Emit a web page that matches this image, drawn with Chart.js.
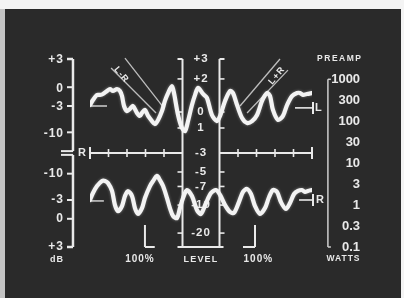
<!DOCTYPE html>
<html>
<head>
<meta charset="utf-8">
<script src="https://cdn.jsdelivr.net/npm/chart.js@4.4.1/dist/chart.umd.min.js"></script>
<style>
html, body { margin: 0; padding: 0; background: #f2f2f2; }
#wrap { width: 404px; height: 298px; }
canvas { display: block; filter: blur(0.35px); }
</style>
</head>
<body>
<div id="wrap"><canvas id="scope" width="404" height="298"></canvas></div>
<script>
// sweep position in graticule divisions (0..12), deflection in screen units (0 = bottom, 100 = top)
const sweepL = [0, 0.16, 0.38, 0.54, 0.70, 0.92, 1.08, 1.24, 1.46, 1.62, 1.73, 1.84, 2.0, 2.16, 2.32, 2.54, 2.70, 2.81, 2.97, 3.14,
    3.35, 3.51, 3.68, 3.89, 4.05, 4.22, 4.43, 4.54, 4.76, 4.97, 5.14, 5.30, 5.51, 5.68, 5.84, 6.11, 6.32, 6.59, 6.86, 7.03,
    7.30, 7.57, 7.73, 7.95, 8.22, 8.49, 8.76, 9.03, 9.30, 9.57, 9.73, 9.89, 10.16, 10.43, 10.65, 10.92, 11.19, 11.35, 11.51, 11.73, 12.0];
const traceL = [75.5, 78.2, 80.9, 80.9, 81.4, 83.0, 84.0, 83.0, 84.0, 83.0, 80.3, 75.0, 72.3, 73.4, 75.0, 71.3, 69.7, 71.3, 72.9, 69.7,
    67.0, 65.4, 67.6, 72.3, 77.7, 81.9, 85.6, 81.9, 70.2, 63.3, 61.7, 67.0, 75.5, 80.9, 84.6, 81.4, 79.3, 70.2, 67.0, 69.7,
    77.7, 83.0, 81.9, 75.5, 68.6, 66.0, 67.0, 70.2, 77.7, 81.9, 80.3, 72.9, 67.6, 69.7, 75.5, 80.3, 81.9, 81.9, 80.9, 81.4, 81.9];
const sweepR = [0, 0.16, 0.38, 0.65, 0.81, 0.97, 1.19, 1.35, 1.51, 1.73, 1.89, 2.05, 2.27, 2.43, 2.59, 2.81, 2.97, 3.24, 3.41, 3.62,
    3.78, 3.95, 4.16, 4.32, 4.49, 4.70, 4.86, 5.03, 5.24, 5.51, 5.78, 6.0, 6.27, 6.54, 6.81, 7.03, 7.30, 7.57, 7.78, 8.05,
    8.27, 8.49, 8.70, 8.92, 9.19, 9.46, 9.68, 9.89, 10.11, 10.32, 10.59, 10.81, 11.03, 11.24, 11.46, 11.62, 11.78, 12.0];
const traceR = [25.0, 28.7, 32.4, 35.1, 35.1, 34.0, 29.8, 22.3, 19.1, 21.8, 27.1, 29.8, 27.1, 20.7, 17.6, 20.7, 26.1, 32.4, 35.1, 37.8,
    35.6, 32.4, 26.1, 20.7, 16.5, 15.4, 20.7, 26.1, 30.3, 27.1, 19.7, 17.6, 23.4, 28.7, 30.3, 27.7, 22.3, 18.6, 18.1, 23.9,
    29.3, 30.9, 28.2, 21.8, 17.6, 20.7, 26.6, 30.3, 29.3, 23.9, 20.2, 23.4, 28.2, 29.8, 30.3, 29.3, 29.8, 30.3];

const dbLabels = ['+3', '0', '-3', '-10'];
const dbUpper = [100, 85, 75, 61];
const dbLower = [0, 15, 25, 39];
const levelLabels = ['+3', '+2', '0', '1', '-3', '-5', '-7', '-10', '-20'];
const levelPos = [100, 89.4, 71.8, 63.3, 50, 39.9, 32.2, 22.3, 7.4];
const wattLabels = ['1000', '300', '100', '30', '10', '3', '1', '0.3', '0.1'];
const wattPos = [89.2, 78.0, 66.9, 55.8, 44.6, 33.5, 22.3, 11.2, 0];
const gratTicks = [1, 2, 3, 4, 8, 9, 10, 11];

const INK = '#e9e9e9';
const FONT = '"Liberation Sans", Arial, sans-serif';

function pts(xs, ys) {
    return xs.map((x, i) => ({ x: x, y: ys[i] }));
}

function seg(ctx, x1, y1, x2, y2, w, col) {
    ctx.save();
    ctx.strokeStyle = col || INK;
    ctx.lineWidth = w || 2;
    ctx.beginPath();
    ctx.moveTo(x1, y1);
    ctx.lineTo(x2, y2);
    ctx.stroke();
    ctx.restore();
}

function label(ctx, str, x, y, size, align, spacing, rot) {
    ctx.save();
    ctx.font = 'bold ' + size + 'px ' + FONT;
    ctx.fillStyle = INK;
    ctx.textAlign = align || 'center';
    ctx.textBaseline = 'middle';
    if (spacing) ctx.letterSpacing = spacing + 'px';
    ctx.translate(x, y);
    if (rot) ctx.rotate(rot);
    ctx.fillText(str, 0, 0);
    ctx.restore();
}

const scopePanel = {
    id: 'scopePanel',
    beforeDraw(chart) {
        const ctx = chart.ctx;
        ctx.save();
        ctx.fillStyle = '#f4f4f4';
        ctx.fillRect(0, 0, chart.width, chart.height);
        ctx.fillStyle = '#c4c4c4';
        ctx.fillRect(0, 9, 5, chart.height);
        ctx.fillStyle = '#2a2a2a';
        ctx.fillRect(5, 9, chart.width - 8, chart.height - 9);
        ctx.restore();
    },
    beforeDatasetsDraw(chart) {
        const ctx = chart.ctx;
        const X = v => chart.scales.x.getPixelForValue(v);
        const Y = v => chart.scales.y.getPixelForValue(v);

        // left dB scales (upper = L, lower = R)
        const ax = X(-0.92);
        seg(ctx, ax, Y(100), ax, Y(51), 2.5);
        seg(ctx, ax - 6, Y(100), ax, Y(100), 2.5);
        seg(ctx, ax - 12, Y(51), ax, Y(51), 2);
        seg(ctx, ax, Y(49), ax, Y(0), 2.5);
        seg(ctx, ax - 12, Y(49), ax, Y(49), 2);
        seg(ctx, ax - 6, Y(0), ax, Y(0), 2.5);
        dbLabels.forEach((t, i) => {
            seg(ctx, ax - 6, Y(dbUpper[i]), ax, Y(dbUpper[i]), 2);
            seg(ctx, ax - 6, Y(dbLower[i]), ax, Y(dbLower[i]), 2);
            label(ctx, t, ax - 9, Y(dbUpper[i]) + 1, 12, 'right', 1);
            label(ctx, t, ax - 9, Y(dbLower[i]), 12, 'right', 1);
        });
        label(ctx, 'dB', ax - 16, Y(-6.4), 9, 'center', 1);

        // horizontal graticule
        const gy = Y(50);
        seg(ctx, X(0), gy, X(5), gy, 2);
        seg(ctx, X(7), gy, X(12), gy, 2);
        gratTicks.forEach(t => seg(ctx, X(t), gy - 4, X(t), gy + 4, 1.6));
        seg(ctx, X(0), gy - 6, X(0), gy + 6, 2);
        seg(ctx, X(12), gy - 6, X(12), gy + 6, 2);
        label(ctx, 'R', X(0) - 8, gy, 11, 'center');

        // -3 reference marks
        seg(ctx, X(0), Y(75), X(0.92), Y(75), 1.5, '#cfcfcf');
        seg(ctx, X(0), Y(24.5), X(0.75), Y(24.5), 1.5, '#cfcfcf');
        seg(ctx, X(11.08), Y(74), X(12), Y(74), 1.6);
        seg(ctx, X(12) + 1, Y(74) - 6, X(12) + 1, Y(74) + 6, 2);
        label(ctx, 'L', X(12) + 3, Y(74), 11, 'left');
        seg(ctx, X(11.3), Y(25), X(12), Y(25), 1.6);
        seg(ctx, X(12) + 1, Y(25) - 6, X(12) + 1, Y(25) + 6, 2);
        label(ctx, 'R', X(12) + 4, Y(25), 11, 'left');

        // centre LEVEL meter
        const mL = X(5), mR = X(7);
        seg(ctx, mL, Y(100), mL, Y(0), 2);
        seg(ctx, mR, Y(100), mR, Y(0), 2);
        seg(ctx, mL - 5, Y(100), mL, Y(100), 2);
        seg(ctx, mR, Y(100), mR + 5, Y(100), 2);
        seg(ctx, mL - 5, Y(0), mR + 4, Y(0), 2);
        levelLabels.forEach((t, i) => {
            const yy = Y(levelPos[i]);
            if (i > 0) {
                seg(ctx, mL - 5, yy, mL, yy, 1.6);
                seg(ctx, mR, yy, mR + 5, yy, 1.6);
            }
            label(ctx, t, X(6), yy, 11.5, 'center', 1);
        });
        label(ctx, 'LEVEL', X(6), Y(-6.4), 9, 'center', 1.2);

        // 100% brackets
        seg(ctx, X(2.97), Y(11.7), X(2.97), Y(0), 2);
        seg(ctx, X(2.97), Y(0), X(3.5), Y(0), 2);
        seg(ctx, X(8.92), Y(11.7), X(8.92), Y(0), 2);
        seg(ctx, X(8.27), Y(0), X(8.92), Y(0), 2);
        label(ctx, '100%', X(2.7), Y(-6.4), 10, 'center', 1);
        label(ctx, '100%', X(9.1), Y(-6.4), 10, 'center', 1);

        // L-R / L+R guide lines
        seg(ctx, X(1.14), Y(95.2), X(3.57), Y(71.3), 1.3, '#bdbdbd');
        seg(ctx, X(1.89), Y(100.5), X(4.0), Y(73.9), 1.3, '#bdbdbd');
        seg(ctx, X(10.27), Y(100), X(8.11), Y(75), 1.3, '#bdbdbd');
        seg(ctx, X(10.7), Y(94.1), X(8.49), Y(71.3), 1.3, '#bdbdbd');
        label(ctx, 'L-R', X(1.7), Y(91.6), 9, 'center', 1, 0.88);
        label(ctx, 'L+R', X(10.1), Y(91.2), 9, 'center', 1, -0.88);

        // PREAMP watts scale
        const wx = X(12.86);
        seg(ctx, wx, Y(89.2), wx, Y(0), 1.5, '#cfcfcf');
        seg(ctx, wx, Y(89.2), wx + 3, Y(89.2), 1.5, '#cfcfcf');
        seg(ctx, wx, Y(0), wx + 3, Y(0), 1.5, '#cfcfcf');
        wattLabels.forEach((t, i) => label(ctx, t, X(14.6), Y(wattPos[i]), 13, 'right'));
        label(ctx, 'PREAMP', X(13.5), Y(100), 8.5, 'center', 1.5);
        label(ctx, 'WATTS', X(13.7), Y(-6.4), 8.5, 'center', 1);

        // phosphor glow for the traces
        ctx.shadowColor = 'rgba(255,255,255,0.4)';
        ctx.shadowBlur = 3;
    },
    afterDatasetsDraw(chart) {
        chart.ctx.shadowBlur = 0;
        chart.ctx.shadowColor = 'rgba(0,0,0,0)';
    }
};

new Chart(document.getElementById('scope'), {
    type: 'line',
    data: {
        datasets: [{
            label: 'L',
            data: pts(sweepL, traceL),
            borderColor: '#f3f3f3',
            borderWidth: 4.2,
            tension: 0.3,
            fill: false,
            borderCapStyle: 'round',
            borderJoinStyle: 'round'
        }, {
            label: 'R',
            data: pts(sweepR, traceR),
            borderColor: '#f3f3f3',
            borderWidth: 4.2,
            tension: 0.3,
            fill: false,
            borderCapStyle: 'round',
            borderJoinStyle: 'round'
        }]
    },
    options: {
        responsive: false,
        animation: false,
        devicePixelRatio: 1,
        layout: { padding: { left: 90, right: 92, top: 59, bottom: 51 } },
        elements: { point: { radius: 0 } },
        scales: {
            x: { type: 'linear', min: 0, max: 12, display: false },
            y: { min: 0, max: 100, display: false }
        },
        plugins: { legend: { display: false }, tooltip: { enabled: false } }
    },
    plugins: [scopePanel]
});
</script>
</body>
</html>
